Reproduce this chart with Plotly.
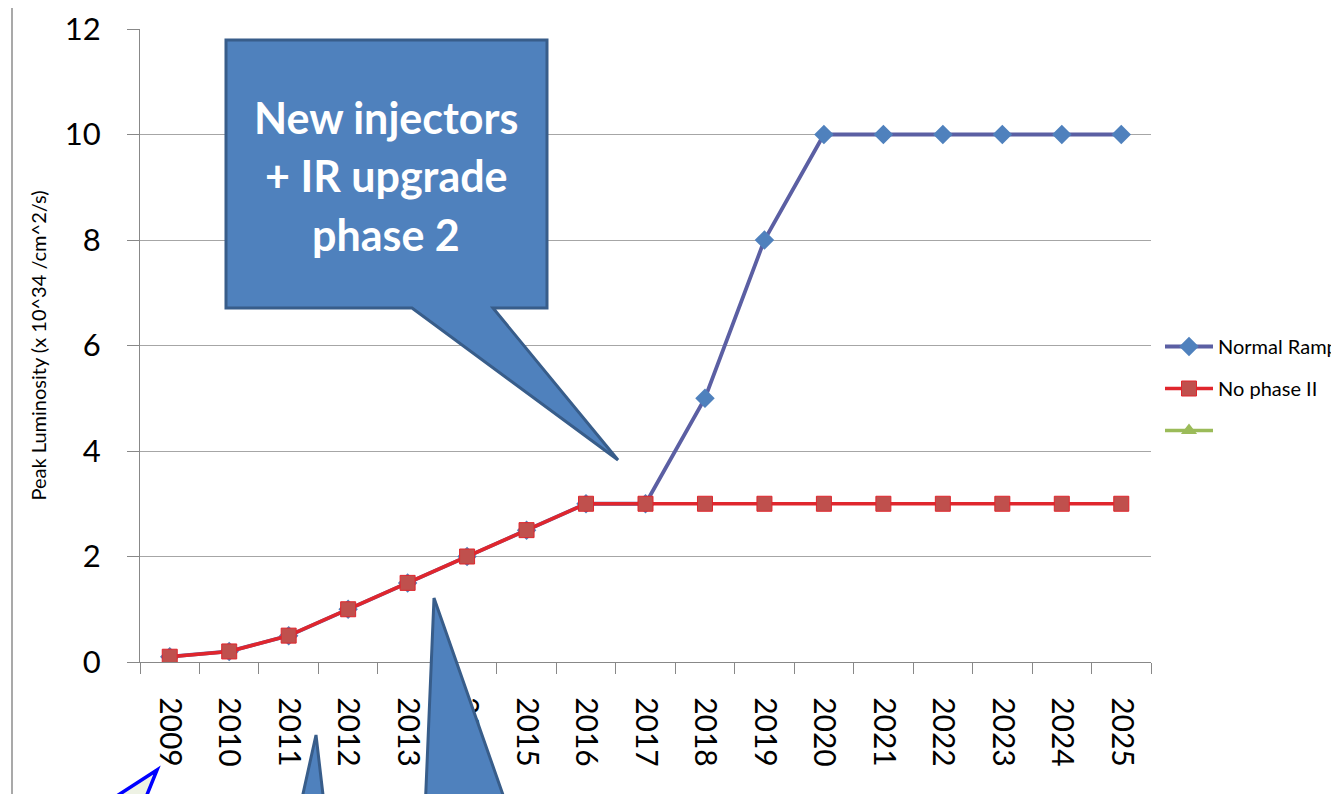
import plotly.graph_objects as go

# ---- data ----
years = ["2009", "2010", "2011", "2012", "2013", "2014", "2015", "2016", "2017",
         "2018", "2019", "2020", "2021", "2022", "2023", "2024", "2025"]
normal_ramp = [0.1, 0.2, 0.5, 1.0, 1.5, 2.0, 2.5, 3, 3, 5, 8, 10, 10, 10, 10, 10, 10]
no_phase_ii = [0.1, 0.2, 0.5, 1.0, 1.5, 2.0, 2.5, 3, 3, 3, 3, 3, 3, 3, 3, 3, 3]
third_series = [None] * len(years)   # empty series (legend only)
y_ticks = [0, 2, 4, 6, 8, 10, 12]
series_names = ["Normal Ramp", "No phase II", " "]
callout_lines = ["New injectors", "+ IR upgrade", "phase 2"]
y_title = "Peak Luminosity (x 10^34 /cm^2/s)"

FONT = "Lato, 'Open Sans', sans-serif"
OFF = 8                      # page body margin
PW, PH = 1339, 794           # page size
W, H = PW - OFF, PH - OFF    # figure size
L, R, T, B = 140, 1151, 29, 662   # plot area in page pixels


def px(x):
    return (x - L) / (R - L)


def py(y):
    return (B - y) / (B - T)


def path(pts):
    return "M" + " L".join(f"{px(x):.5f},{py(y):.5f}" for x, y in pts) + " Z"


fig = go.Figure()
fig.add_trace(go.Scatter(
    x=years, y=normal_ramp, name=series_names[0], mode="lines+markers",
    line=dict(color="#5b5fa3", width=3.8),
    marker=dict(symbol="diamond", size=15, color="#4f81bd"),
    legendgroup="a"))
fig.add_trace(go.Scatter(
    x=years, y=no_phase_ii, name=series_names[1], mode="lines+markers",
    line=dict(color="#e0262d", width=3.5),
    marker=dict(symbol="square", size=15, color="#c0504d",
                line=dict(color="#e0262d", width=1)),
    legendgroup="b"))
fig.add_trace(go.Scatter(
    x=years, y=third_series, name=series_names[2], mode="lines+markers",
    line=dict(color="#9bbb59", width=3.5),
    marker=dict(symbol="triangle-up", size=14, color="#9bbb59"),
    legendgroup="c"))

shapes = []
# chart-area left border
shapes.append(dict(type="line", xref="paper", yref="paper",
                   x0=px(12), x1=px(12), y0=py(3), y1=py(800),
                   line=dict(color="#8c8c8c", width=1.5), layer="above"))
# callout
shapes.append(dict(type="path", xref="paper", yref="paper", layer="above",
                   path=path([(226, 40), (547, 40), (547, 308), (493, 308),
                              (618, 460), (412, 308), (226, 308)]),
                   fillcolor="#4f81bd", line=dict(color="#385d8a", width=3)))
# big wedge
shapes.append(dict(type="path", xref="paper", yref="paper", layer="above",
                   path=path([(434, 598), (509, 812), (425, 812)]),
                   fillcolor="#4f81bd", line=dict(color="#385d8a", width=3)))
# small wedge
shapes.append(dict(type="path", xref="paper", yref="paper", layer="above",
                   path=path([(316, 735), (325, 812), (299, 812)]),
                   fillcolor="#4f81bd", line=dict(color="#385d8a", width=3)))
# blue outlined arrow
shapes.append(dict(type="path", xref="paper", yref="paper", layer="above",
                   path=path([(157, 770), (92, 812), (140, 812)]),
                   fillcolor="#eef2e4", line=dict(color="#0000ff", width=3.5)))

annotations = []
for txt, yc in zip(callout_lines, [117, 176, 234]):
    annotations.append(dict(text=f"<b>{txt}</b>", xref="paper", yref="paper",
                            x=px(386), y=py(yc), xanchor="center", yanchor="middle",
                            showarrow=False,
                            font=dict(family=FONT, size=43, color="white")))

fig.update_layout(
    width=W, height=H,
    margin=dict(l=L - OFF, r=W - (R - OFF), t=T - OFF, b=H - (B - OFF), autoexpand=False),
    paper_bgcolor="white", plot_bgcolor="white",
    font=dict(family=FONT, color="black"),
    showlegend=True,
    legend=dict(x=px(1160), y=py(327), xanchor="left", yanchor="top",
                font=dict(family=FONT, size=20, color="black"),
                tracegroupgap=13, traceorder="grouped",
                bgcolor="rgba(0,0,0,0)", itemwidth=48),
    shapes=shapes, annotations=annotations,
)
fig.update_xaxes(
    type="category", categoryorder="array", categoryarray=years,
    range=[-0.5, len(years) - 0.5],
    showgrid=False, showline=True, linecolor="#888888", linewidth=1.3,
    ticks="outside", ticklen=11, tickcolor="#888888", tickwidth=1.3,
    tickson="boundaries", tickangle=90,
    tickfont=dict(family=FONT, size=30, color="black"),
    ticklabelstandoff=28, zeroline=False)
fig.update_yaxes(
    range=[0, 12], tickvals=y_ticks,
    showgrid=True, gridcolor="#a6a6a6", gridwidth=1.3,
    showline=True, linecolor="#888888", linewidth=1.3,
    ticks="outside", ticklen=12, tickcolor="#888888", tickwidth=1.3,
    tickfont=dict(family=FONT, size=31, color="black"),
    ticklabelstandoff=20, zeroline=False,
    title=dict(text=y_title, font=dict(family=FONT, size=20, color="black"),
               standoff=12))

fig.write_html("out.html")
